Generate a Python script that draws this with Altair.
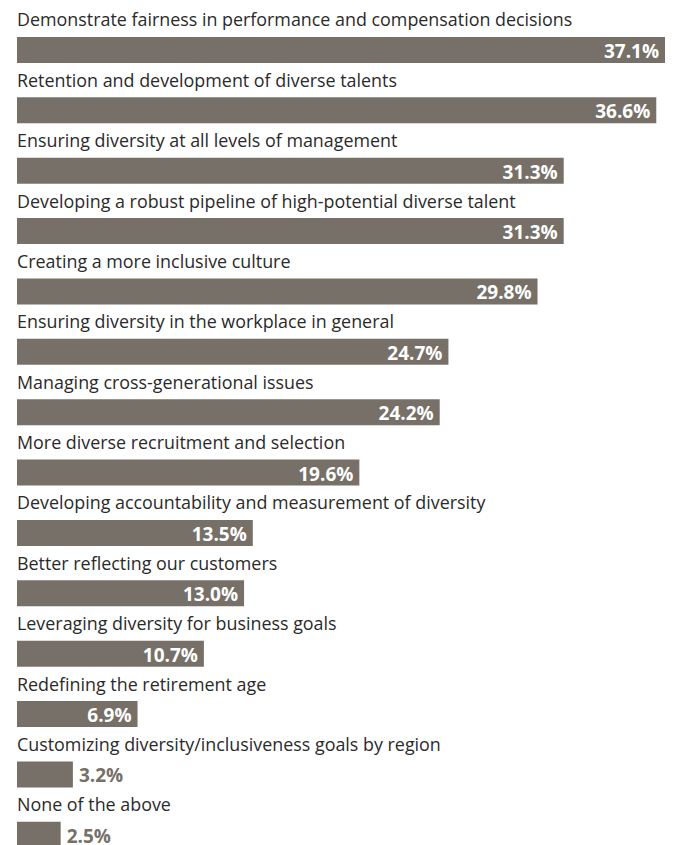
import altair as alt
import pandas as pd

categories = [
    "Demonstrate fairness in performance and compensation decisions",
    "Retention and development of diverse talents",
    "Ensuring diversity at all levels of management",
    "Developing a robust pipeline of high-potential diverse talent",
    "Creating a more inclusive culture",
    "Ensuring diversity in the workplace in general",
    "Managing cross-generational issues",
    "More diverse recruitment and selection",
    "Developing accountability and measurement of diversity",
    "Better reflecting our customers",
    "Leveraging diversity for business goals",
    "Redefining the retirement age",
    "Customizing diversity/inclusiveness goals by region",
    "None of the above",
]
values = [37.1, 36.6, 31.3, 31.3, 29.8, 24.7, 24.2, 19.6, 13.5, 13.0, 10.7, 6.9, 3.2, 2.5]

df = pd.DataFrame({"category": categories, "value": values})
df["label"] = [f"{v:.1f}%" for v in values]

BAR = "#767068"
STEP = 60.37

y = alt.Y("category:N", sort=categories, axis=None,
          scale=alt.Scale(paddingInner=0, paddingOuter=0))
x = alt.X("value:Q", axis=None, scale=alt.Scale(domain=[0, 38.53], nice=False, zero=True))

base = alt.Chart(df).encode(y=y)

bars = base.mark_bar(size=26, color=BAR).encode(x=x)

cat_text = base.mark_text(align="left", baseline="alphabetic", dy=-23.5,
                          font="Open Sans", fontSize=17.9, color="#2a2a2a").encode(
    x=alt.value(0), text="category:N")

inside = base.transform_filter(alt.datum.value > 5).mark_text(
    align="right", baseline="alphabetic", dx=-6, dy=8, font="Open Sans",
    fontWeight="bold", fontSize=19, color="white").encode(x=x, text="label:N")

outside = base.transform_filter(alt.datum.value <= 5).mark_text(
    align="left", baseline="alphabetic", dx=6, dy=8, font="Open Sans",
    fontWeight="bold", fontSize=19, color=BAR).encode(x=x, text="label:N")

chart = alt.layer(bars, cat_text, inside, outside).properties(
    width=673, height=STEP * 14,
    padding={"left": 17, "top": 19.8, "right": 0, "bottom": 0},
    autosize=alt.AutoSizeParams(type="none"),
).configure_view(stroke=None)

chart.save("out.html", embed_options={"renderer": "svg", "actions": False})
